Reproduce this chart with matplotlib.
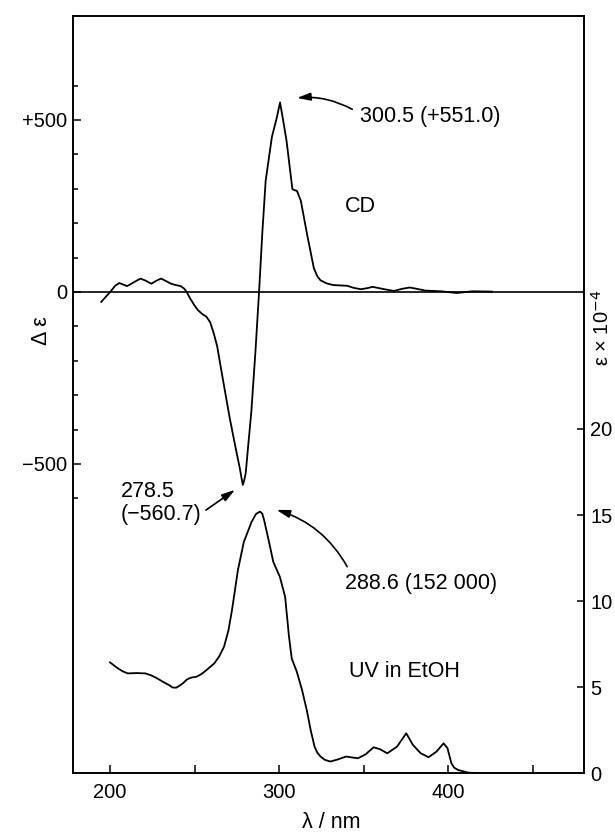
import matplotlib
matplotlib.use('Agg')
import matplotlib.pyplot as plt
import numpy as np

plt.rcParams['font.family'] = ['Liberation Sans', 'DejaVu Sans']
plt.rcParams['font.size'] = 14.5
plt.rcParams['axes.linewidth'] = 1.2

# CD spectrum (wavelength nm, delta epsilon)
cd_wl = [194.8, 197.5, 200.1, 203.0, 205.5, 207.5, 210.1, 214.0, 218.0, 221.0,
         224.4, 227.5, 230.2, 233.0, 236.0, 239.0, 241.8, 243.8, 245.3, 247.5,
         249.9, 252.0, 254.5, 257.0, 259.2, 261.3, 263.3, 267.0, 270.7, 273.7,
         276.7, 277.7, 278.5, 279.3, 280.2, 281.8, 283.5, 286.0, 288.1, 290.0,
         292.0, 295.7, 298.5, 300.5, 302.3, 304.3, 307.8, 309.0, 310.5, 312.8,
         316.5, 320.5, 322.5, 324.4, 328.0, 332.1, 340.2, 344.0, 348.2, 352.0,
         355.2, 362.1, 367.9, 372.5, 377.2, 381.5, 386.4, 395.7, 405.0, 414.2,
         425.8]
cd_val = [-29, -14, 0, 18, 26, 22, 17, 28, 39, 33,
          24, 33, 39, 32, 24, 20, 17, 10, 0, -20,
          -39, -53, -64, -72, -88, -120, -157, -262, -365, -440,
          -512, -540, -560.7, -548, -527, -440, -350, -170, 0, 170,
          323, 451, 505, 551, 500, 441, 299, 296, 294, 265,
          167, 69, 46, 34, 25, 20, 18, 12, 8, 11,
          15, 8, 3, 9, 13, 9, 4, 2, -3, 2,
          1]

# UV spectrum (wavelength nm, epsilon x 1e-4)
uv_wl = [200.0, 202.5, 204.7, 207.5, 210.5, 215.5, 220.9, 224.5, 227.9, 231.5,
         234.9, 237.0, 239.1, 241.0, 243.0, 245.5, 247.7, 251.2, 254.0, 257.0,
         261.6, 264.5, 267.4, 270.0, 272.1, 275.6, 279.1, 283.7, 286.2, 288.6,
         290.0, 291.1, 294.2, 296.5, 300.4, 303.5, 305.8, 307.4, 310.4, 313.5,
         316.3, 318.6, 320.9, 322.5, 324.4, 327.0, 330.2, 334.9, 339.5, 346.5,
         351.1, 355.8, 359.5, 363.9, 369.7, 372.5, 375.1, 377.0, 379.0, 383.7,
         388.3, 393.0, 397.2, 399.5, 401.8, 403.5, 405.8, 411.6, 418.6]
uv_val = [6.44, 6.25, 6.09, 5.92, 5.80, 5.82, 5.80, 5.68, 5.51, 5.30,
          5.12, 4.98, 4.97, 5.08, 5.22, 5.45, 5.55, 5.61, 5.76, 5.99,
          6.38, 6.78, 7.35, 8.30, 9.48, 11.80, 13.44, 14.60, 15.05, 15.20,
          15.08, 14.70, 13.34, 12.28, 11.41, 10.25, 7.93, 6.67, 5.90, 4.84,
          3.67, 2.51, 1.55, 1.20, 0.97, 0.78, 0.68, 0.81, 0.97, 0.87,
          1.10, 1.51, 1.40, 1.16, 1.55, 1.95, 2.32, 2.00, 1.65, 1.16,
          0.93, 1.26, 1.74, 1.45, 0.58, 0.32, 0.19, 0.04, 0.0]

fig = plt.figure(figsize=(6.15, 8.32), dpi=100)
ax = fig.add_axes([0.1195, 0.0706, 0.8293, 0.9105])
ax2 = ax.twinx()

ax.axhline(0, color='black', lw=1.2)
ax.plot(cd_wl, cd_val, color='black', lw=1.3)
ax2.plot(uv_wl, uv_val, color='black', lw=1.3)

ax.set_xlim(178.4, 479.9)
ax.set_ylim(-1399, 803)
ax2.set_ylim(0, 44.0)

ax.set_xticks([200, 300, 400])
ax.set_xticks([250, 350, 450], minor=True)
ax.tick_params(axis='x', which='both', direction='in', length=6, width=1.1,
               top=False, pad=7)

ax.set_yticks([-500, 0, 500])
ax.set_yticklabels(['\u2212500', '0', '+500'])
ax.set_yticks([-600, -400, -300, -200, -100, 100, 200, 300, 400, 600], minor=True)
ax.tick_params(axis='y', which='major', direction='in', length=6, width=1.1, pad=4.5)
ax.tick_params(axis='y', which='minor', direction='in', length=3.6, width=1.1)

ax2.set_yticks([0, 5, 10, 15, 20])
ax2.tick_params(axis='y', direction='in', length=5, width=1.1, pad=5)

arrow = dict(arrowstyle='-|>,head_length=0.55,head_width=0.16', color='black',
             lw=1.2, shrinkA=0, shrinkB=0)
fs = 15.5

ax.annotate('', xy=(310.5, 564), xytext=(343.2, 531),
            arrowprops=dict(arrow, connectionstyle='arc3,rad=0.15'))
ax.text(347.5, 510, '300.5 (+551.0)', ha='left', va='center', fontsize=fs)
ax.text(339.0, 248, 'CD', ha='left', va='center', fontsize=fs)

ax.annotate('', xy=(273.9, -575), xytext=(256.7, -634),
            arrowprops=dict(arrow, connectionstyle='arc3,rad=0'))
ax.text(206.5, -614, '278.5\n(\u2212560.7)', ha='left', va='center',
        linespacing=1.1, fontsize=fs)

ax2.annotate('', xy=(298.4, 15.3), xytext=(340.2, 12.0),
             arrowprops=dict(arrow, connectionstyle='arc3,rad=0.2'))
ax2.text(339.0, 11.02, '288.6 (152 000)', ha='left', va='center', fontsize=fs)
ax2.text(341.5, 5.90, 'UV in EtOH', ha='left', va='center', fontsize=fs)

fig.text(41.7 / 615, 1 - 331 / 832, '\u0394 \u03b5', rotation=90,
         ha='center', va='center', fontsize=fs)
fig.text(602 / 615, 1 - 328 / 832, '\u03b5 \u00d7 10$^{\u22124}$', rotation=90,
         ha='center', va='center', fontsize=14.5)
fig.text(331 / 615, 1 - 823 / 832, '\u03bb / nm', ha='center', va='center',
         fontsize=fs)

fig.savefig('out.png', dpi=100)
